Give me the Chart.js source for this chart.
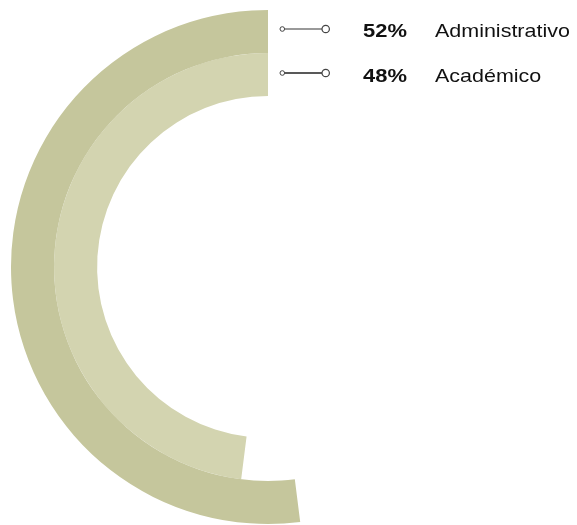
<!DOCTYPE html>
<html>
<head>
<meta charset="utf-8">
<script src="https://cdn.jsdelivr.net/npm/chart.js@4.4.0/dist/chart.umd.min.js"></script>
<style>
  html, body { margin: 0; padding: 0; background: #fff; }
  #wrap { position: relative; width: 577px; height: 525px; }
  #c { position: absolute; left: 0; top: 0; }
  .conn { position: absolute; left: 276px; display: block; }
  .txt { position: absolute; line-height: 20px; white-space: nowrap; transform-origin: 0 50%;
         font-family: "Liberation Sans", Arial, Helvetica, sans-serif; font-size: 18.6px; color: #111; }
  .pct { left: 362.5px; font-weight: bold; transform: scaleX(1.18); }
  .lab { left: 435px; transform: scaleX(1.155); }
</style>
</head>
<body>
<div id="wrap">
  <canvas id="c" width="577" height="525"></canvas>
</div>
<script>
const categories = ["Administrativo", "Académico"];
const values = [52, 48];
const pctLabels = ["52%", "48%"];
const colors = ["#c5c69c", "#d3d4b0"];

// Each ring starts at the top and runs counter-clockwise; a transparent remainder fills the rest
const datasets = values.map((v, i) => ({
  label: categories[i],
  data: [100 - v, v],
  backgroundColor: ["rgba(0,0,0,0)", colors[i]],
  borderWidth: 0,
  hoverOffset: 0
}));

new Chart(document.getElementById('c'), {
  type: 'doughnut',
  data: { labels: ["", categories[0]], datasets },
  options: {
    responsive: false,
    animation: false,
    cutout: '66.5%',
    rotation: 0,
    layout: { padding: { left: 11, right: 52, top: 10, bottom: 1 } },
    plugins: { legend: { display: false }, tooltip: { enabled: false } }
  }
});

// Legend
const wrap = document.getElementById('wrap');
const lineY = [29, 73];
const textTop = [20.6, 65.6];
const lineColors = ["#777", "#222"];
categories.forEach((cat, i) => {
  const svg = document.createElementNS('http://www.w3.org/2000/svg', 'svg');
  svg.setAttribute('class', 'conn');
  svg.setAttribute('width', '56');
  svg.setAttribute('height', '20');
  svg.style.top = (lineY[i] - 10) + 'px';
  svg.innerHTML =
    '<line x1="8.5" y1="10" x2="46" y2="10" stroke="' + lineColors[i] + '" stroke-width="1.7"/>' +
    '<circle cx="6.3" cy="10" r="2.3" fill="#fff" stroke="#444" stroke-width="1"/>' +
    '<circle cx="49.7" cy="10" r="3.7" fill="#fff" stroke="#444" stroke-width="1.2"/>';
  wrap.appendChild(svg);

  const p = document.createElement('span');
  p.className = 'txt pct';
  p.style.top = textTop[i] + 'px';
  p.textContent = pctLabels[i];
  wrap.appendChild(p);

  const l = document.createElement('span');
  l.className = 'txt lab';
  l.style.top = textTop[i] + 'px';
  l.textContent = cat;
  wrap.appendChild(l);
});
</script>
</body>
</html>
